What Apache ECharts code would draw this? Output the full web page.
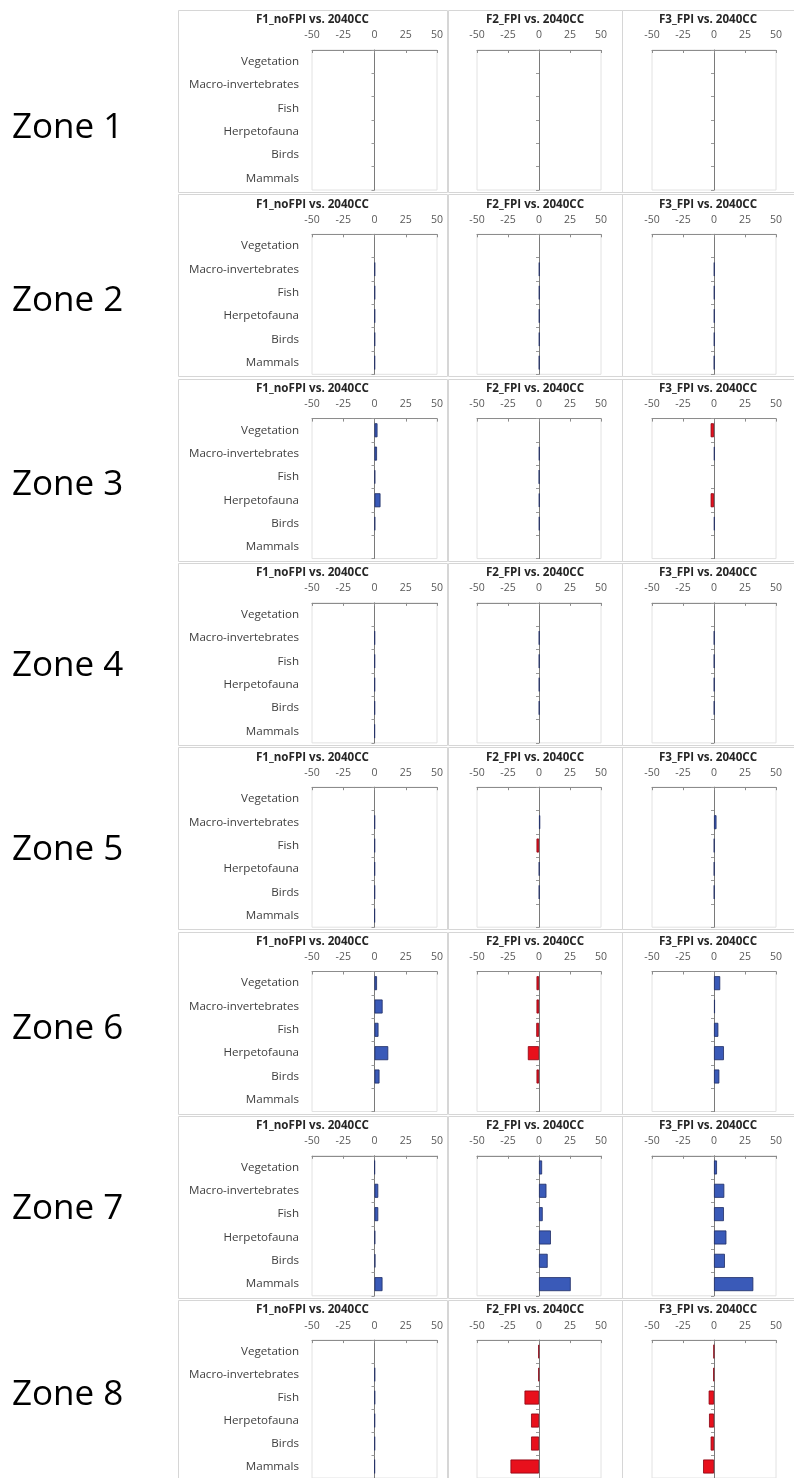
<!DOCTYPE html>
<html>
<head>
<meta charset="utf-8">
<script src="https://cdn.jsdelivr.net/npm/echarts@6/dist/echarts.min.js"></script>
<style>
html,body{margin:0;padding:0;background:#fff;}
#chart{width:794px;height:1478px;}
</style>
</head>
<body>
<div id="chart"></div>
<script>
// ---------- DATA ----------
const categories = ['Vegetation', 'Macro-invertebrates', 'Fish', 'Herpetofauna', 'Birds', 'Mammals'];
const zones = ['Zone 1', 'Zone 2', 'Zone 3', 'Zone 4', 'Zone 5', 'Zone 6', 'Zone 7', 'Zone 8'];
const panelTitles = ['F1_noFPI vs. 2040CC', 'F2_FPI vs. 2040CC', 'F3_FPI vs. 2040CC'];
const xTicks = [-50, -25, 0, 25, 50];

// one row per zone, values in category order
const f1NoFPI = [
  [0, 0, 0, 0, 0, 0],
  [0, 0.4, 0.4, 0.4, 0.4, 0.3],
  [2.4, 2, 0.5, 4.8, 0.5, 0],
  [0, 0.3, 0.3, 0.3, 0.3, 0.2],
  [0, 0.3, 0.3, 0.3, 0.3, 0.2],
  [2, 6.5, 3.2, 11, 4, 0],
  [0.2, 3, 3, 0.5, 0.7, 6.4],
  [0, 0.4, 0.4, 0.3, 0.3, 0.2]
];
const f2FPI = [
  [0, 0, 0, 0, 0, 0],
  [0, 0.4, 0.4, 0.4, 0.4, 0.3],
  [0, 0.4, 0.2, 0.4, 0.4, 0],
  [0, 0.3, 0.3, 0.3, 0.3, 0],
  [0, 1, -2, 0.3, 0.3, 0],
  [-2, -2, -2.2, -9, -2, 0],
  [2.5, 6, 3, 9.6, 7, 25.6],
  [-0.5, -0.5, -11.7, -6.4, -6.4, -23]
];
const f3FPI = [
  [0, 0, 0, 0, 0, 0],
  [0, 0.4, 0.4, 0.4, 0.4, 0.3],
  [-2.7, 0.5, 0, -2.7, 0.5, 0],
  [0, 0.3, 0.3, 0.3, 0.3, 0],
  [0, 2, 0.3, 0.3, 0.3, 0],
  [5, 0.8, 3.5, 8, 4.3, 0],
  [2.4, 8.3, 8, 10, 8.8, 31.7],
  [-0.3, -0.5, -4.3, -4, -2.7, -8.8]
];
const panels = [f1NoFPI, f2FPI, f3FPI];

// ---------- LAYOUT / STYLE ----------
const FONT = 'Open Sans';
const zoneTitleY0 = 20, zonePitch = 184.3;
const zoneLabelY = [128, 301, 485, 666, 850, 1029, 1209, 1395];
const gridLeft = [312, 477, 652];
const gridWidth = [125, 124, 124];
const panelBox = [[178, 447], [448, 622], [622, 800]];
const blueStyle = { color: '#3a5ab8', borderColor: '#1f2d66', borderWidth: 0.8 };
const redStyle = { color: '#e8101c', borderColor: '#8a0010', borderWidth: 0.8 };
const zeroStyle = { color: 'transparent', borderWidth: 0 };

const grid = [], xAxis = [], yAxis = [], series = [], graphic = [];

zones.forEach((zName, z) => {
  const T = zoneTitleY0 + zonePitch * z;
  graphic.push({
    type: 'text', x: 12, y: zoneLabelY[z],
    style: { text: zName, fontFamily: FONT, fontSize: 35, fill: '#000', align: 'left', verticalAlign: 'middle' }
  });
  for (let p = 0; p < 3; p++) {
    const k = z * 3 + p;
    const bx = panelBox[p];
    graphic.push({
      type: 'rect', z: -1,
      shape: { x: bx[0] + 0.5, y: Math.round(T - 10) + 0.5, width: bx[1] - bx[0], height: 182 },
      style: { fill: 'none', stroke: '#d6d6d6', lineWidth: 1 }
    });
    graphic.push({
      type: 'text', x: (bx[0] + Math.min(bx[1], 794)) / 2, y: T,
      style: { text: panelTitles[p], fontFamily: FONT, fontSize: 11.6, fontWeight: 'bold', fill: '#262626', align: 'center', verticalAlign: 'middle' }
    });
    grid.push({
      left: gridLeft[p], top: T + 30, width: gridWidth[p], height: 140,
      show: true, borderColor: '#e2e2e2', borderWidth: 1, backgroundColor: 'transparent'
    });
    xAxis.push({
      gridIndex: k, type: 'value', position: 'top', min: -50, max: 50, interval: 25,
      axisLine: { show: true, lineStyle: { color: '#8c8c8c', width: 1 } },
      axisTick: { show: true, inside: true, length: 3, lineStyle: { color: '#8c8c8c' } },
      axisLabel: { fontFamily: FONT, fontSize: 10.5, color: '#595959', margin: 9,
        formatter: v => (xTicks.indexOf(v) >= 0 ? String(v) : '') },
      splitLine: { show: false }
    });
    yAxis.push({
      gridIndex: k, type: 'category', data: categories, inverse: true,
      axisLine: { show: false }, axisTick: { show: false },
      axisLabel: { show: p === 0, fontFamily: FONT, fontSize: 11.6, color: '#404040', margin: 13 },
      splitLine: { show: false }
    });
    yAxis.push({
      gridIndex: k, type: 'category', data: categories, inverse: true, position: 'left',
      axisLine: { show: true, onZero: true, onZeroAxisIndex: k, lineStyle: { color: '#7a7a7a', width: 1 } },
      axisTick: { show: true, length: 3, lineStyle: { color: '#9a9a9a' } },
      axisLabel: { show: false }, splitLine: { show: false }
    });
    series.push({
      type: 'bar', xAxisIndex: k, yAxisIndex: 2 * k, barWidth: 14, silent: true,
      data: panels[p][z].map(v => ({ value: v, itemStyle: v === 0 ? zeroStyle : (v < 0 ? redStyle : blueStyle) }))
    });
  }
});

const chart = echarts.init(document.getElementById('chart'), null, { renderer: 'canvas' });
chart.setOption({
  backgroundColor: '#fff',
  animation: false,
  grid, xAxis, yAxis, series, graphic
});
</script>
</body>
</html>
